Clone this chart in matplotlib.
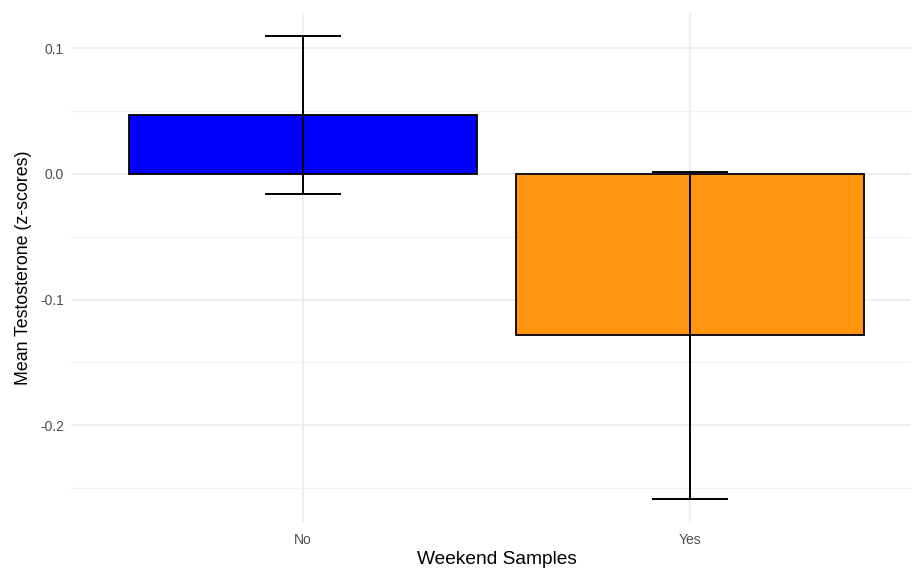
import matplotlib
matplotlib.use("Agg")
import matplotlib.pyplot as plt
from matplotlib.ticker import MultipleLocator

# Mean testosterone (z-scores) by whether samples were taken on a weekend
categories = ["No", "Yes"]
means = [0.0469, -0.1285]
ci_low = [-0.0159, -0.2586]
ci_high = [0.1098, 0.0016]
colors = ["#0000FF", "#FF950E"]

plt.rcParams["font.family"] = ["Liberation Sans", "DejaVu Sans"]

fig = plt.figure(figsize=(9.12, 5.69), dpi=100)
W, H = 912, 569
left, right, top, bottom = 71, 922, 13, 522
ax = fig.add_axes([left / W, (H - bottom) / H, (right - left) / W, (bottom - top) / H])

x = [1, 2]
ax.bar(x, means, width=0.9, color=colors, edgecolor="black", linewidth=1.3, zorder=3)
yerr = [[m - lo for m, lo in zip(means, ci_low)], [hi - m for m, hi in zip(means, ci_high)]]
ax.errorbar(x, means, yerr=yerr, fmt="none", ecolor="black", elinewidth=1.4,
            capsize=27.7, capthick=1.4, zorder=4)

ax.set_xlim(0.4, 2.6)
ax.set_ylim(-0.277, 0.128)
ax.set_xticks(x)
ax.set_xticklabels(categories)
ax.yaxis.set_major_locator(MultipleLocator(0.1))
ax.yaxis.set_minor_locator(MultipleLocator(0.05))
ax.set_yticks([-0.2, -0.1, 0.0, 0.1])
ax.set_yticklabels(["-0.2", "-0.1", "0.0", "0.1"])

ax.grid(True, which="major", color="#EBEBEB", linewidth=1.2, zorder=0)
ax.grid(True, which="minor", axis="y", color="#F0F0F0", linewidth=0.9, zorder=0)
ax.set_axisbelow(True)
for s in ax.spines.values():
    s.set_visible(False)
ax.tick_params(which="both", length=0, labelsize=10, labelcolor="#4D4D4D")
ax.tick_params(axis="x", pad=8)
ax.tick_params(axis="y", pad=5)

ax.set_xlabel("Weekend Samples", fontsize=13.8, color="black", labelpad=3)
ax.set_ylabel("Mean Testosterone (z-scores)", fontsize=12.8, color="black", labelpad=6)

fig.savefig("out.png", dpi=100)
